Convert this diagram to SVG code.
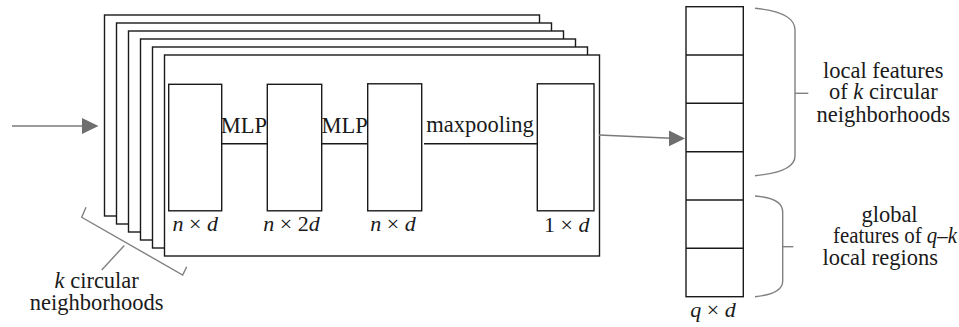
<svg xmlns="http://www.w3.org/2000/svg" width="959" height="327" viewBox="0 0 959 327">
<style>
.fr{fill:#fff;stroke:#1a1a1a;stroke-width:1.4}
.bx{fill:#fff;stroke:#1a1a1a;stroke-width:1.4}
.ln{fill:none;stroke:#1a1a1a;stroke-width:1.4}
.gr{fill:none;stroke:#808080;stroke-width:1.4}
.ah{fill:#6e6e6e}
.t{font-family:"Liberation Serif","Times New Roman",serif;font-size:22.5px;fill:#1a1a1a}
.m{font-family:"Liberation Serif","Times New Roman",serif;font-size:22px;fill:#1a1a1a}
.i{font-style:italic}
</style>
<rect width="959" height="327" fill="#fff"/>
<g id="frames">
<rect class="fr" x="104.5" y="15" width="435" height="201"/>
<rect class="fr" x="116.5" y="23" width="435" height="201"/>
<rect class="fr" x="128.5" y="31" width="435" height="201"/>
<rect class="fr" x="140.5" y="39" width="435" height="201"/>
<rect class="fr" x="152.5" y="47" width="435" height="201"/>
<rect class="fr" x="164.5" y="55" width="435" height="201"/>
</g>
<g id="connectors">
<line class="ln" x1="221.7" y1="143.7" x2="267.3" y2="143.7"/>
<line class="ln" x1="321.7" y1="143.7" x2="367.7" y2="143.7"/>
<line class="ln" x1="424" y1="143.7" x2="537.3" y2="143.7"/>
<line x1="12" y1="126" x2="83" y2="126" stroke="#7a7a7a" stroke-width="1.6"/>
<polygon class="ah" points="82,118 98.5,126 82,134"/>
<line x1="599" y1="135" x2="671" y2="138.3" stroke="#7a7a7a" stroke-width="1.4"/>
<polygon class="ah" points="669,130.5 685,138.5 669,146.3"/>
<polyline class="gr" points="86,207.3 81.7,217.3 182.7,275 186.7,266.7"/>
<line class="gr" x1="124.3" y1="245.5" x2="101.7" y2="270"/>
<path class="gr" d="M755,8.3 Q795,12 795,30 L795,156 Q795,172 755,175.7"/>
<line class="gr" x1="795" y1="93.3" x2="808.3" y2="93.3"/>
<path class="gr" d="M755,196 Q782.7,198 782.7,212 L782.7,281 Q782.7,294 755,296.7"/>
<line class="gr" x1="782.7" y1="246.7" x2="793.3" y2="246.7"/>
</g>
<g id="box1"><rect class="bx" x="168.7" y="84.3" width="53" height="126.5"/>
<text class="m" x="195.2" y="230.7" text-anchor="middle"><tspan class="i">n</tspan> × <tspan class="i">d</tspan></text></g>
<g id="box2"><rect class="bx" x="267.3" y="84.3" width="54.4" height="126.5"/>
<text class="m" x="291.5" y="230.7" text-anchor="middle"><tspan class="i">n</tspan> × 2<tspan class="i">d</tspan></text></g>
<g id="box3"><rect class="bx" x="367.7" y="83.8" width="54" height="127"/>
<text class="m" x="393" y="230.7" text-anchor="middle"><tspan class="i">n</tspan> × <tspan class="i">d</tspan></text></g>
<g id="box4"><rect class="bx" x="537.3" y="83.8" width="56.7" height="127"/>
<text class="m" x="566.8" y="231.5" text-anchor="middle">1 × <tspan class="i">d</tspan></text></g>
<g id="labels">
<text class="t" x="244" y="133.3" text-anchor="middle">MLP</text>
<text class="t" x="344.7" y="133.3" text-anchor="middle">MLP</text>
<text class="t" x="480" y="131.7" text-anchor="middle">maxpooling</text>
<text class="t" x="96.7" y="288" text-anchor="middle"><tspan class="i">k</tspan> circular</text>
<text class="t" x="96.7" y="309.5" text-anchor="middle">neighborhoods</text>
</g>
<g id="column">
<rect class="bx" x="686" y="6.7" width="57.3" height="290"/>
<line class="ln" x1="686" y1="55" x2="743.3" y2="55"/>
<line class="ln" x1="686" y1="103.3" x2="743.3" y2="103.3"/>
<line class="ln" x1="686" y1="151.7" x2="743.3" y2="151.7"/>
<line class="ln" x1="686" y1="200" x2="743.3" y2="200"/>
<line class="ln" x1="686" y1="248.3" x2="743.3" y2="248.3"/>
<text class="m" x="713" y="316.7" text-anchor="middle"><tspan class="i">q</tspan> × <tspan class="i">d</tspan></text>
</g>
<g id="local-label">
<text class="t" x="883.3" y="77.7" text-anchor="middle">local features</text>
<text class="t" x="883.3" y="99.3" text-anchor="middle">of <tspan class="i">k</tspan> circular</text>
<text class="t" x="883.3" y="121.7" text-anchor="middle">neighborhoods</text>
</g>
<g id="global-label">
<text class="t" x="889.5" y="221.7" text-anchor="middle">global</text>
<text class="t" x="957" y="242.7" text-anchor="end" textLength="124" lengthAdjust="spacingAndGlyphs">features of <tspan class="i">q</tspan>–<tspan class="i">k</tspan></text>
<text class="t" x="880.3" y="265" text-anchor="middle">local regions</text>
</g>
</svg>
